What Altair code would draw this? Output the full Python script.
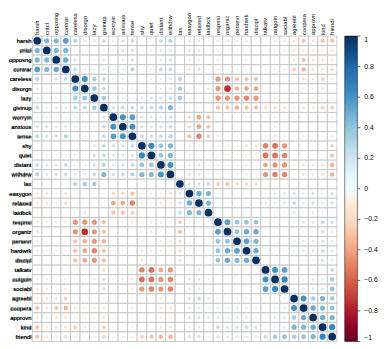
import altair as alt
import pandas as pd

names = ["harsh", "critcl", "opposng", "contrar", "careless", "disorgn", "lazy", "givinup",
         "worryin", "anxious", "tense", "shy", "quiet", "distant", "withdrw", "lax", "easygon",
         "relaxed", "laidbck", "respnsi", "organiz", "persevr", "hardwrk", "discipl", "talkatv",
         "outgoin", "sociabl", "agreebl", "coopera", "approvn", "kind", "friendl"]

# lower triangle of the correlation matrix (row i, columns 0..i-1)
lower = [
    [],
    [0.45],
    [0.45, 0.45],
    [0.55, 0.45, 0.5],
    [0.3, 0.05, 0.2, 0.25],
    [0.15, -0.05, 0.05, 0.1, 0.6],
    [0.15, 0.05, 0.1, 0.1, 0.35, 0.4],
    [0.25, 0.1, 0.15, 0.15, 0.25, 0.25, 0.35],
    [0.1, 0.1, 0.05, 0.1, 0.1, 0.05, 0.05, 0.2],
    [0.2, 0.2, 0.15, 0.15, 0.1, 0.1, 0.1, 0.25, 0.6],
    [0.25, 0.2, 0.2, 0.3, 0.05, 0.1, 0.05, 0.25, 0.55, 0.6],
    [0.05, 0.05, 0.05, 0.05, 0.05, 0.05, 0.15, 0.25, 0.2, 0.2, 0.25],
    [0.05, 0.1, 0.05, 0.1, 0.1, 0.05, 0.2, 0.25, 0.15, 0.15, 0.2, 0.65],
    [0.25, 0.15, 0.15, 0.25, 0.1, 0.1, 0.2, 0.3, 0.15, 0.2, 0.25, 0.4, 0.4],
    [0.3, 0.15, 0.2, 0.25, 0.15, 0.15, 0.25, 0.45, 0.2, 0.25, 0.3, 0.45, 0.45, 0.6],
    [0.05, 0.05, 0.0, 0.05, 0.3, 0.35, 0.35, 0.1, 0.05, 0.0, 0.0, 0.0, 0.0, 0.05, 0.0],
    [-0.15, -0.15, -0.1, -0.15, 0.0, 0.0, 0.0, 0.05, -0.2, -0.2, -0.3, -0.1, -0.1, -0.1, -0.15, 0.15],
    [-0.15, -0.15, -0.1, -0.2, 0.0, 0.0, 0.0, 0.05, -0.4, -0.4, -0.5, -0.1, -0.05, -0.15, -0.15, 0.2, 0.5],
    [-0.05, -0.05, -0.05, -0.05, 0.1, 0.15, 0.05, 0.0, -0.3, -0.3, -0.25, 0.0, 0.0, -0.05, -0.05, 0.25, 0.45, 0.45],
    [-0.15, -0.1, -0.1, -0.1, -0.45, -0.45, -0.45, -0.3, -0.05, -0.05, -0.1, -0.1, -0.1, -0.1, -0.1, -0.25, 0.0, 0.0, 0.0],
    [-0.15, -0.05, -0.05, -0.05, -0.45, -0.75, -0.45, -0.3, 0.0, 0.0, 0.05, -0.1, -0.1, -0.05, -0.05, -0.3, 0.0, 0.0, 0.0, 0.55],
    [-0.1, 0.05, -0.05, -0.05, -0.3, -0.35, -0.45, -0.35, 0.0, 0.0, -0.05, -0.1, -0.05, -0.1, -0.1, -0.2, 0.0, 0.0, 0.0, 0.4, 0.4],
    [-0.1, -0.05, -0.1, -0.05, -0.3, -0.4, -0.5, -0.3, 0.05, 0.0, 0.0, -0.15, -0.1, -0.1, -0.1, -0.2, 0.0, 0.0, 0.0, 0.4, 0.5, 0.55],
    [0.0, 0.05, -0.05, 0.0, -0.3, -0.4, -0.45, -0.3, 0.0, 0.0, 0.0, -0.15, -0.1, -0.05, -0.05, -0.2, 0.0, 0.0, 0.0, 0.4, 0.5, 0.45, 0.5],
    [0.05, 0.0, 0.0, 0.05, 0.0, 0.0, 0.0, -0.2, -0.05, -0.05, -0.1, -0.5, -0.55, -0.4, -0.45, 0.0, 0.1, 0.15, 0.05, 0.0, 0.0, 0.0, 0.0, 0.0],
    [-0.1, -0.1, -0.05, -0.1, -0.05, -0.05, -0.1, -0.2, -0.1, -0.1, -0.15, -0.55, -0.55, -0.45, -0.5, 0.0, 0.15, 0.15, 0.1, 0.05, 0.0, 0.0, 0.05, 0.0, 0.6],
    [-0.1, -0.1, -0.05, -0.1, 0.0, -0.05, -0.05, -0.2, -0.05, -0.05, -0.1, -0.45, -0.5, -0.45, -0.5, 0.0, 0.15, 0.15, 0.1, 0.05, 0.0, 0.0, 0.0, 0.0, 0.55, 0.65],
    [-0.15, -0.15, -0.15, -0.25, 0.0, -0.05, 0.0, -0.1, 0.0, 0.0, -0.05, 0.0, 0.0, -0.1, -0.05, 0.0, 0.2, 0.25, 0.15, 0.1, 0.05, 0.1, 0.1, 0.05, 0.05, 0.1, 0.1],
    [-0.3, -0.15, -0.3, -0.35, -0.15, -0.1, -0.1, -0.15, -0.05, -0.05, -0.1, 0.0, 0.0, -0.15, -0.15, 0.05, 0.15, 0.15, 0.1, 0.15, 0.1, 0.15, 0.15, 0.1, 0.05, 0.1, 0.15, 0.6],
    [-0.15, -0.1, -0.15, -0.15, -0.1, -0.1, -0.1, -0.15, 0.0, 0.0, -0.05, -0.05, 0.0, -0.1, -0.1, 0.05, 0.2, 0.2, 0.15, 0.15, 0.1, 0.15, 0.15, 0.1, 0.05, 0.15, 0.15, 0.35, 0.5],
    [-0.3, -0.1, -0.15, -0.15, -0.25, -0.15, -0.1, -0.25, 0.0, 0.0, -0.05, -0.05, 0.0, -0.15, -0.15, 0.0, 0.1, 0.15, 0.1, 0.25, 0.2, 0.2, 0.25, 0.2, 0.05, 0.1, 0.15, 0.45, 0.45, 0.5],
    [-0.3, -0.15, -0.15, -0.2, -0.1, -0.05, -0.1, -0.25, -0.1, -0.1, -0.1, -0.25, -0.3, -0.35, -0.35, 0.0, 0.2, 0.2, 0.1, 0.2, 0.15, 0.15, 0.15, 0.15, 0.25, 0.35, 0.4, 0.35, 0.4, 0.45, 0.65],
]

legend_values = [1, 0.8, 0.6, 0.4, 0.2, 0, -0.2, -0.4, -0.6, -0.8, -1]
palette_domain = [-1, -0.8, -0.6, -0.4, -0.2, 0, 0.2, 0.4, 0.6, 0.8, 1]
palette = ["#67001F", "#B2182B", "#D6604D", "#F4A582", "#FDDBC7", "#FFFFFF",
           "#D1E5F0", "#92C5DE", "#4393C3", "#2166AC", "#053061"]

n = len(names)
records = []
for i in range(n):
    for j in range(n):
        if i == j:
            r = 1.0
        elif j < i:
            r = lower[i][j]
        else:
            r = lower[j][i]
        records.append({"row": names[i], "col": names[j], "r": r, "absr": abs(r)})
df = pd.DataFrame(records)
ticks = pd.DataFrame({"v": legend_values})

FONT = "Liberation Sans"
W, H = 311, 312
BAR_X = 319

xenc = alt.X("col:N", sort=names,
             scale=alt.Scale(domain=names, paddingInner=0, paddingOuter=0),
             axis=alt.Axis(orient="top", labelAngle=-90, title=None, domain=False, ticks=False,
                           labelPadding=1.5, labelFontSize=6, labelFont=FONT, labelColor="black",
                           labelFontWeight="normal"))
yenc = alt.Y("row:N", sort=names,
             scale=alt.Scale(domain=names, paddingInner=0, paddingOuter=0),
             axis=alt.Axis(orient="left", title=None, domain=False, ticks=False,
                           labelPadding=1.5, labelFontSize=6, labelFont=FONT, labelColor="black",
                           labelFontWeight="normal"))

base = alt.Chart(df)
cells = base.mark_rect(fill="white", stroke="#bebebe", strokeWidth=0.8).encode(x=xenc, y=yenc)
circles = base.mark_circle(opacity=1).encode(
    x=xenc, y=yenc,
    size=alt.Size("absr:Q", scale=alt.Scale(domain=[0, 1], range=[0, 62]), legend=None),
    color=alt.Color("r:Q", title=None,
                    scale=alt.Scale(domain=palette_domain, range=palette),
                    legend=alt.Legend(orient="none", legendX=BAR_X, legendY=0, direction="vertical",
                                      gradientLength=H, gradientThickness=13,
                                      values=legend_values, format=".1~f", labelFontSize=7,
                                      labelFont=FONT, labelColor="black", labelOffset=7,
                                      labelBaseline="middle", labelOverlap=False,
                                      gradientStrokeColor="black", gradientStrokeWidth=0.5)),
)
tickmarks = alt.Chart(ticks).mark_rule(color="black", strokeWidth=0.6).encode(
    y=alt.Y("v:Q", scale=alt.Scale(domain=[-1, 1], nice=False, zero=False), axis=None),
    x=alt.value(BAR_X + 13), x2=alt.value(BAR_X + 16),
)

chart = alt.layer(cells, circles, tickmarks).resolve_scale(y="independent").properties(
    width=W, height=H,
    padding={"left": 25, "top": 25, "right": 42, "bottom": 4},
    autosize=alt.AutoSizeParams(type="none"),
).configure_view(stroke=None)

chart.save("out.html", embed_options={"renderer": "svg", "actions": False})
